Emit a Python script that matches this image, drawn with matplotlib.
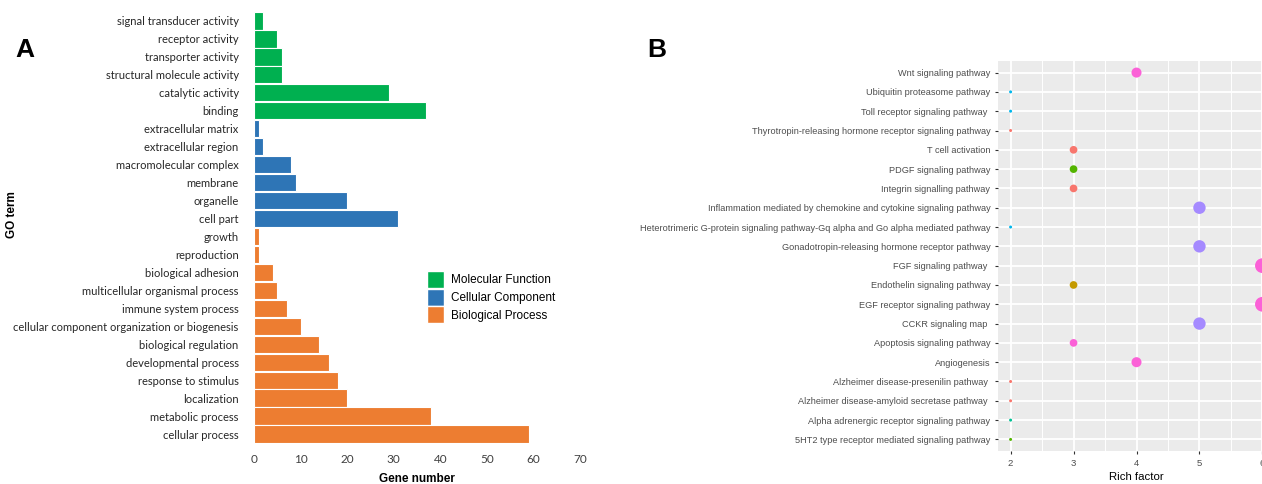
"""
GO annotation bar chart (A) and pathway enrichment dot plot (B)
"""

import numpy as np
import matplotlib.pyplot as plt
from matplotlib.patches import Patch

# ---- panel A data (top to bottom) ----
go_terms = ['signal transducer activity', 'receptor activity', 'transporter activity',
            'structural molecule activity', 'catalytic activity', 'binding',
            'extracellular matrix', 'extracellular region', 'macromolecular complex',
            'membrane', 'organelle', 'cell part',
            'growth', 'reproduction', 'biological adhesion', 'multicellular organismal process',
            'immune system process', 'cellular component organization or biogenesis',
            'biological regulation', 'developmental process', 'response to stimulus',
            'localization', 'metabolic process', 'cellular process']
gene_number = [2, 5, 6, 6, 29, 37,
               1, 2, 8, 9, 20, 31,
               1, 1, 4, 5, 7, 10, 14, 16, 18, 20, 38, 59]
go_category = ['Molecular Function'] * 6 + ['Cellular Component'] * 6 + ['Biological Process'] * 12
categories = ['Molecular Function', 'Cellular Component', 'Biological Process']

# ---- panel B data (top to bottom) ----
pathways = ['Wnt signaling pathway', 'Ubiquitin proteasome pathway',
            'Toll receptor signaling pathway ', 'Thyrotropin-releasing hormone receptor signaling pathway',
            'T cell activation', 'PDGF signaling pathway', 'Integrin signalling pathway',
            'Inflammation mediated by chemokine and cytokine signaling pathway',
            'Heterotrimeric G-protein signaling pathway-Gq alpha and Go alpha mediated pathway',
            'Gonadotropin-releasing hormone receptor pathway', 'FGF signaling pathway ',
            'Endothelin signaling pathway', 'EGF receptor signaling pathway', 'CCKR signaling map ',
            'Apoptosis signaling pathway', 'Angiogenesis', 'Alzheimer disease-presenilin pathway ',
            'Alzheimer disease-amyloid secretase pathway ', 'Alpha adrenergic receptor signaling pathway',
            '5HT2 type receptor mediated signaling pathway']
rich_factor = [4, 2, 2, 2, 3, 3, 3, 5, 2, 5, 6, 3, 6, 5, 3, 4, 2, 2, 2, 2]
gene_count = [4, 1, 1, 1, 3, 3, 3, 5, 1, 5, 6, 3, 6, 5, 3, 4, 1, 1, 1, 1]
pathway_group = [6, 4, 4, 0, 0, 2, 0, 5, 4, 5, 6, 1, 6, 5, 6, 6, 0, 0, 3, 2]

cat_colors = {'Molecular Function': '#00B050',
              'Cellular Component': '#2E75B6',
              'Biological Process': '#ED7D31'}
hue = ['#F8766D', '#C49A00', '#53B400', '#00C094', '#00B6EB', '#A58AFF', '#FB61D7']

W, H = 1262, 484
fig = plt.figure(figsize=(W / 100, H / 100), dpi=100)

# ---------------- panel A ----------------
axA = fig.add_axes([254 / W, 1 - 443 / H, 326 / W, 431 / H])
n = len(go_terms)
ypos = np.arange(n)[::-1]
axA.barh(ypos, gene_number, height=0.96, color=[cat_colors[c] for c in go_category],
         edgecolor='white', linewidth=0.8)
axA.set_xlim(0, 70)
axA.set_ylim(-0.5, n - 0.5)
axA.set_xticks(range(0, 71, 10))
axA.set_yticks(ypos)
axA.set_yticklabels(go_terms, fontfamily='Lato', fontsize=8.0, color='#262626')
for lab in axA.get_xticklabels():
    lab.set_fontfamily('Lato')
    lab.set_fontsize(8.5)
    lab.set_color('#404040')
axA.tick_params(length=0, pad=8)
axA.tick_params(axis='y', pad=11)
for s in axA.spines.values():
    s.set_visible(False)
axA.set_xlabel('Gene number', fontsize=8.5, fontweight='bold', fontfamily='Liberation Sans', labelpad=6)
fig.text(12 / W, 1 - 215 / H, 'GO term', rotation=90, fontsize=8.5, fontweight='bold',
         fontfamily='Liberation Sans', ha='center', va='center')
handles = [Patch(facecolor=cat_colors[c], edgecolor='white', label=c) for c in categories]
fig.legend(handles=handles, loc='upper left', bbox_to_anchor=(427 / W, 1 - 271 / H),
           frameon=False, handlelength=1.45, handleheight=1.85,
           labelspacing=0.05, handletextpad=0.55, borderaxespad=0, borderpad=0,
           prop={'family': 'Liberation Sans', 'size': 8.5})
fig.text(25 / W, 1 - 50 / H, 'A', fontsize=19, fontweight='bold', fontfamily='Liberation Sans',
         ha='center', va='center')

# ---------------- panel B ----------------
x0, x1 = 998, 1275
axB = fig.add_axes([x0 / W, 1 - 451 / H, (x1 - x0) / W, (451 - 61) / H])
axB.set_facecolor('#EBEBEB')
m = len(pathways)
yB = np.arange(m)[::-1]
cnt = np.array(gene_count, dtype=float)
diam_px = 3.0 + 2.35 * (cnt - 1)
sizes = (diam_px * 0.72) ** 2
axB.scatter(rich_factor, yB, s=sizes, c=[hue[g] for g in pathway_group], linewidths=0,
            zorder=3, clip_on=True)
axB.set_xlim(1.8, 6.2)
axB.set_ylim(-0.6, m - 1 + 0.6)
axB.set_xticks([2, 3, 4, 5, 6])
axB.set_xticks([2.5, 3.5, 4.5, 5.5], minor=True)
axB.set_yticks(yB)
axB.set_yticklabels(pathways, fontfamily='Liberation Sans', fontsize=6.6, color='#4D4D4D')
for lab in axB.get_xticklabels():
    lab.set_fontfamily('Liberation Sans')
    lab.set_fontsize(6.8)
    lab.set_color('#4D4D4D')
axB.tick_params(which='major', length=2.5, width=0.8, color='#333333', pad=3)
axB.tick_params(which='minor', length=0)
axB.grid(which='major', color='white', linewidth=1.3)
axB.grid(which='minor', axis='x', color='white', linewidth=0.7)
axB.set_axisbelow(True)
for s in axB.spines.values():
    s.set_visible(False)
axB.set_xlabel('Rich factor', fontsize=8.2, fontfamily='Liberation Sans', labelpad=3)
fig.text(657 / W, 1 - 50 / H, 'B', fontsize=19, fontweight='bold', fontfamily='Liberation Sans',
         ha='center', va='center')

fig.savefig('out.png', dpi=100)
